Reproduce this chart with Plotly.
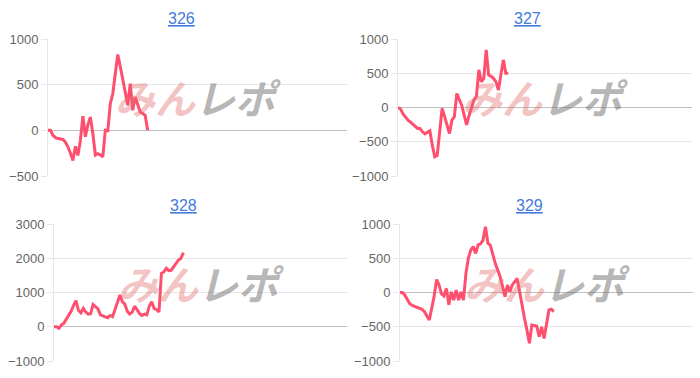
import plotly.graph_objects as go

titles = ["326", "327", "328", "329"]

values_326 = [0, 0, -55, -80, -90, -95, -100, -130, -180, -250, -330, -175, -275, -110,
              155, -70, 60, 145, -35, -270, -255, -270, -290, 0, -5, 290, 400, 620, 830,
              700, 548, 400, 275, 510, 220, 365, 270, 200, 185, 165, 0]
values_327 = [0, -20, -90, -140, -180, -210, -240, -275, -305, -305, -355, -385, -360, -340,
              -550, -720, -700, -330, -15, -130, -270, -380, -185, -135, 205, 120, 35, -110,
              -255, -120, 10, 110, 160, 550, 375, 425, 840, 475, 455, 425, 375, 255, 480,
              695, 500, 500]
values_328 = [0, 0, -45, 50, 100, 220, 330, 450, 620, 760, 480, 410, 535, 430, 370, 380, 650,
              580, 520, 345, 310, 290, 265, 330, 295, 520, 700, 925, 730, 660, 450, 370, 420,
              600, 500, 390, 330, 370, 345, 600, 730, 535, 500, 430, 1560, 1600, 1705, 1640,
              1650, 1750, 1850, 1950, 2000, 2165]
values_329 = [0, 0, -40, -100, -165, -190, -205, -220, -230, -245, -280, -340, -400, -230,
              -50, 190, 110, -20, -50, 60, -180, 10, -110, 35, -110, 10, -110, 280, 500, 620,
              670, 570, 695, 710, 765, 960, 720, 690, 540, 425, 330, 230, 90, -60, 110, 10,
              110, 160, 205, 10, -200, -380, -550, -740, -475, -480, -490, -645, -500, -670,
              -460, -255, -245, -280]
series = [values_326, values_327, values_328, values_329]

x_slots = 120
y_ranges = [(-500, 1000, 500), (-1000, 1000, 500), (-1000, 3000, 1000), (-1000, 1000, 500)]

x_domains = [(48 / 700, 347 / 700), (398 / 700, 692 / 700),
             (54 / 700, 347 / 700), (400 / 700, 693 / 700)]
y_domains = [(1 - 176 / 378, 1 - 39 / 378), (1 - 176 / 378, 1 - 39 / 378),
             (1 - 361 / 378, 1 - 224 / 378), (1 - 361 / 378, 1 - 224 / 378)]
title_x = [181 / 700, 527 / 700, 183 / 700, 529 / 700]
title_y = [1 - 19 / 378, 1 - 19 / 378, 1 - 205 / 378, 1 - 205 / 378]

LINE = "#ff4f6e"
GRID = "#e6e6e6"
ZERO = "#bfbfbf"
FONT = "Liberation Sans, Arial, sans-serif"

fig = go.Figure()
layout = dict(
    width=700, height=378, margin=dict(l=0, r=0, t=0, b=0, pad=0),
    paper_bgcolor="white", plot_bgcolor="white", showlegend=False,
    font=dict(family=FONT, size=13, color="#666666"),
)
annotations = []
for i, vals in enumerate(series):
    n = i + 1
    xa = "x" if n == 1 else f"x{n}"
    ya = "y" if n == 1 else f"y{n}"
    fig.add_trace(go.Scatter(
        x=list(range(len(vals))), y=vals, mode="lines",
        line=dict(color=LINE, width=3), xaxis=xa, yaxis=ya, hoverinfo="skip",
    ))
    lo, hi, step = y_ranges[i]
    layout[f"xaxis{'' if n == 1 else n}"] = dict(
        domain=list(x_domains[i]), range=[0, x_slots], anchor=ya,
        showticklabels=False, showgrid=False, zeroline=False, showline=False,
        ticks="", fixedrange=True, automargin=False,
    )
    layout[f"yaxis{'' if n == 1 else n}"] = dict(
        domain=list(y_domains[i]), range=[lo, hi], dtick=step, tick0=0, anchor=xa,
        showgrid=True, gridcolor=GRID, gridwidth=1,
        zeroline=True, zerolinecolor=ZERO, zerolinewidth=1,
        showline=True, linecolor=GRID, linewidth=1,
        ticks="outside", ticklen=6, tickcolor=GRID, automargin=False,
        tickfont=dict(family=FONT, size=13, color="#666666"), fixedrange=True,
    )
    annotations.append(dict(
        text=f'<a href="#{titles[i]}"><u>{titles[i]}</u></a>',
        x=title_x[i], y=title_y[i], xref="paper", yref="paper",
        xanchor="center", yanchor="middle", showarrow=False,
        font=dict(family=FONT, size=16, color="#0f66cc"),
    ))
    # watermark logo (text version)
    cx = (x_domains[i][0] + x_domains[i][1]) / 2
    cy_px = 97 if i < 2 else 283
    annotations.append(dict(
        text='<b><i><span style="color:rgba(226,110,110,0.42)">みん</span>'
             '<span style="color:rgba(120,120,120,0.55)">レポ</span></i></b>',
        x=cx, y=1 - cy_px / 378, xref="paper", yref="paper",
        xanchor="center", yanchor="middle", showarrow=False,
        font=dict(family="Noto Sans CJK JP", size=40),
    ))
layout["annotations"] = annotations
fig.update_layout(**layout)
fig.write_html("out.html", post_script="document.body.style.margin='0';")
